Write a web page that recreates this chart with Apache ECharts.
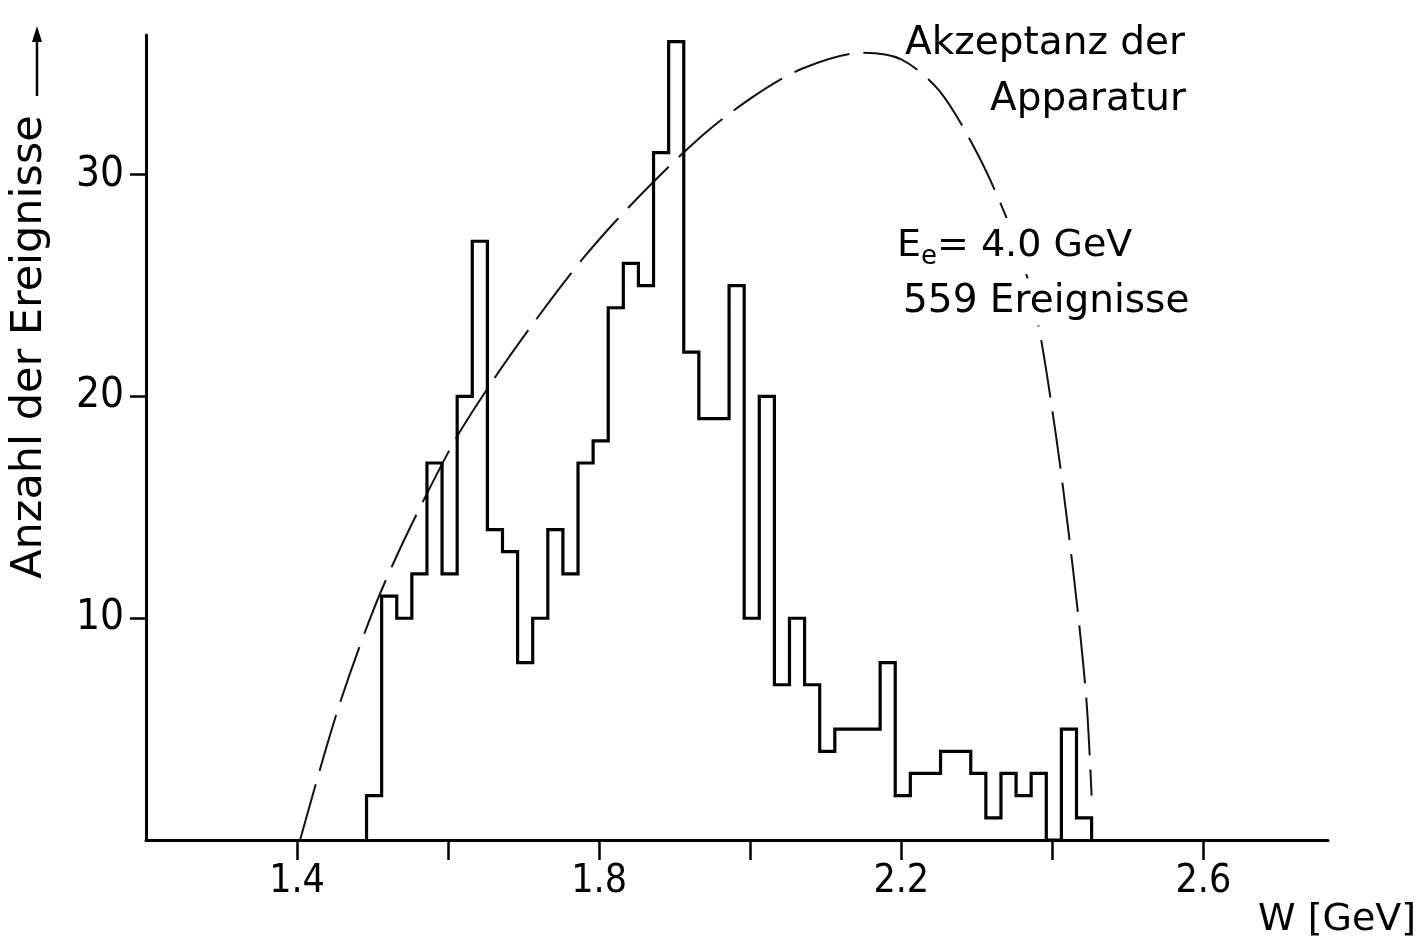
<!DOCTYPE html>
<html>
<head>
<meta charset="utf-8">
<title>Anzahl der Ereignisse – W</title>
<script src="https://cdn.jsdelivr.net/npm/echarts@6/dist/echarts.min.js"></script>
<style>
  html, body { margin: 0; padding: 0; background: #fff; }
  #chart { width: 1427px; height: 949px; }
</style>
</head>
<body>
<div id="chart"></div>
<script>
// Histogram of events per W bin (GeV), E_e = 4.0 GeV
const binStart = 1.492;
const binWidth = 0.02;
const counts = [
  2, 11, 10, 12, 17, 12, 20, 27, 14, 13,
  8, 10, 14, 12, 17, 18, 24, 26, 25, 31,
  36, 22, 19, 19, 25, 10, 20, 7, 10, 7,
  4, 5, 5, 5, 8, 2, 3, 3, 4, 4,
  3, 1, 3, 2, 3, 0, 5, 1
];

// Acceptance of the apparatus (dashed curve), in the same count units
const accW = [1.404, 1.457, 1.516, 1.602, 1.655, 1.715, 1.778, 1.841,
              1.931, 2.003, 2.070, 2.150, 2.200, 2.250, 2.300, 2.340, 2.370, 2.385,
              2.405, 2.420, 2.435, 2.4456, 2.452];
const accV = [0, 6.2, 11.6, 17.6, 20.5, 23.4, 26.2, 28.6,
              31.6, 33.5, 34.8, 35.5, 35.2, 33.8, 31.0, 28.0, 25.0, 22.6,
              18.2, 14.3, 9.9, 6.1, 2.0];

// Axis ticks and labels
const xTicks = [1.4, 1.6, 1.8, 2.0, 2.2, 2.4, 2.6];
const xLabels = [1.4, 1.8, 2.2, 2.6];
const yTicks = [10, 20, 30];

// Step outline of the histogram
const histLine = [[binStart, 0]];
counts.forEach((c, k) => {
  const x0 = +(binStart + k * binWidth).toFixed(4);
  const x1 = +(binStart + (k + 1) * binWidth).toFixed(4);
  histLine.push([x0, c], [x1, c]);
});
histLine.push([+(binStart + counts.length * binWidth).toFixed(4), 0]);

const accLine = accW.map((w, i) => [w, accV[i]]);

const tickFont = "'DejaVu Sans Condensed', 'DejaVu Sans', sans-serif";
const textFont = "'DejaVu Sans', sans-serif";

const chart = echarts.init(document.getElementById('chart'), null, { renderer: 'canvas' });
chart.setOption({
  backgroundColor: '#fff',
  animation: false,
  grid: { left: 146, right: 99, top: 35, bottom: 109, containLabel: false },
  xAxis: {
    type: 'value',
    min: 1.2,
    max: 2.765,
    interval: 0.2,
    axisLine: { show: true, onZero: false, lineStyle: { color: '#000', width: 3 } },
    axisTick: { show: true, customValues: xTicks, length: 20, inside: false,
                lineStyle: { color: '#000', width: 2.5 } },
    axisLabel: { show: true, customValues: xLabels, margin: 22, fontSize: 39,
                 fontFamily: tickFont, color: '#000',
                 formatter: v => v.toFixed(1) },
    splitLine: { show: false }
  },
  yAxis: {
    type: 'value',
    min: 0,
    max: 36.3,
    interval: 10,
    axisLine: { show: true, onZero: false, lineStyle: { color: '#000', width: 3 } },
    axisTick: { show: true, customValues: yTicks, length: 16, inside: false,
                lineStyle: { color: '#000', width: 2.5 } },
    axisLabel: { show: true, customValues: yTicks, margin: 22, fontSize: 42,
                 fontFamily: tickFont, color: '#000' },
    splitLine: { show: false }
  },
  series: [
    {
      name: 'Akzeptanz der Apparatur',
      type: 'line',
      data: accLine,
      smooth: 0.3,
      showSymbol: false,
      lineStyle: { color: '#111', width: 2, type: [58, 14] },
      z: 2
    },
    {
      name: 'Ereignisse',
      type: 'line',
      data: histLine,
      showSymbol: false,
      lineStyle: { color: '#000', width: 3.2, join: 'miter' },
      z: 3
    }
  ],
  graphic: [
    { type: 'text', x: 30, y: 347, rotation: Math.PI / 2,
      style: { text: 'Anzahl der Ereignisse', fontSize: 43, fontFamily: textFont, fill: '#000',
               textAlign: 'center', textVerticalAlign: 'middle', align: 'center', verticalAlign: 'middle' } },
    { type: 'line', shape: { x1: 37, y1: 96, x2: 37, y2: 36 },
      style: { stroke: '#000', lineWidth: 2.5 } },
    { type: 'polygon', shape: { points: [[37, 26], [32, 42], [42, 42]] },
      style: { fill: '#000' } },
    { type: 'text', x: 905, y: 44,
      style: { text: 'Akzeptanz der', fontSize: 39, fontFamily: textFont, fill: '#000',
               textAlign: 'left', textVerticalAlign: 'middle', align: 'left', verticalAlign: 'middle' } },
    { type: 'text', x: 990, y: 100,
      style: { text: 'Apparatur', fontSize: 39, fontFamily: textFont, fill: '#000',
               textAlign: 'left', textVerticalAlign: 'middle', align: 'left', verticalAlign: 'middle' } },
    { type: 'text', x: 897, y: 246, z: 10,
      style: { text: '{a|E}{s|e}{a|= 4.0 GeV}', fill: '#000',
               backgroundColor: '#fff', padding: [4, 4, 4, 0],
               textAlign: 'left', textVerticalAlign: 'middle', align: 'left', verticalAlign: 'middle',
               rich: {
                 a: { fontSize: 38, fontFamily: textFont, fill: '#000', color: '#000' },
                 s: { fontSize: 26, fontFamily: textFont, fill: '#000', color: '#000', padding: [22, 0, 0, 0] }
               } } },
    { type: 'text', x: 903, y: 302, z: 10,
      style: { text: '559 Ereignisse', fontSize: 39, fontFamily: textFont, fill: '#000',
               backgroundColor: '#fff', padding: [4, 4, 4, 0],
               textAlign: 'left', textVerticalAlign: 'middle', align: 'left', verticalAlign: 'middle' } },
    { type: 'text', x: 1258, y: 920,
      style: { text: 'W [GeV]', fontSize: 38, fontFamily: textFont, fill: '#000',
               textAlign: 'left', textVerticalAlign: 'middle', align: 'left', verticalAlign: 'middle' } }
  ]
});
</script>
</body>
</html>
